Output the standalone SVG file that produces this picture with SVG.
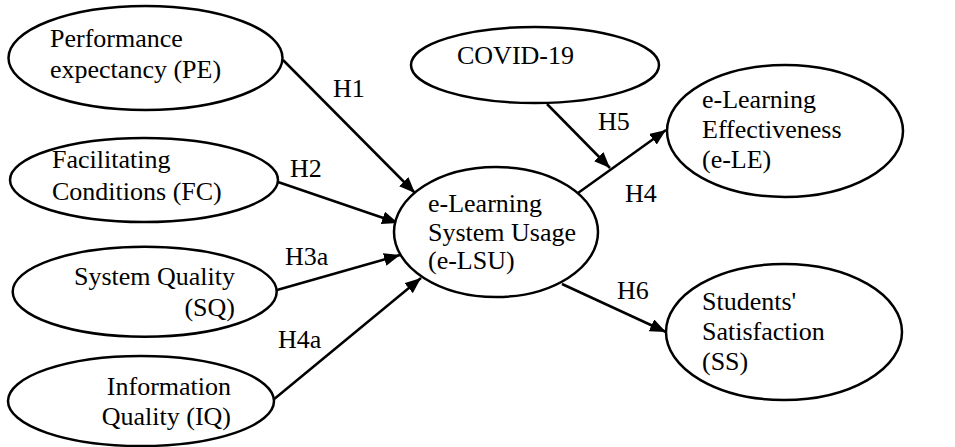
<svg xmlns="http://www.w3.org/2000/svg" width="955" height="447" viewBox="0 0 955 447">
<defs>
<marker id="arr" markerUnits="userSpaceOnUse" markerWidth="17" markerHeight="14" refX="16" refY="6.5" orient="auto">
<path d="M0,0 L16,6.5 L0,13 z" fill="#000"/>
</marker>
<style>
.n ellipse{fill:#fff;stroke:#000;stroke-width:2.5}
.c line{stroke:#000;stroke-width:2.5;marker-end:url(#arr)}
</style>
</defs>
<rect width="955" height="447" fill="#fff"/>
<g font-family="Liberation Serif, DejaVu Serif, serif" font-size="26" fill="#000">
<g class="c" id="connectors">
<line x1="283" y1="60" x2="415" y2="193"/>
<line x1="278" y1="182" x2="398" y2="223"/>
<line x1="277" y1="290" x2="400" y2="255"/>
<line x1="273" y1="400" x2="421" y2="278"/>
<line x1="547" y1="104" x2="610" y2="168"/>
<line x1="578" y1="193" x2="666" y2="130"/>
<line x1="562" y1="284" x2="666" y2="332"/>
<text x="333" y="97">H1</text>
<text x="290" y="177">H2</text>
<text x="285" y="265">H3a</text>
<text x="278" y="348">H4a</text>
<text x="598" y="130">H5</text>
<text x="625" y="202">H4</text>
<text x="617" y="299">H6</text>
</g>
<g class="n" id="pe"><ellipse cx="145.5" cy="58" rx="137" ry="52"/><text x="50" y="47">Performance</text><text x="50" y="78">expectancy (PE)</text></g>
<g class="n" id="fc"><ellipse cx="144" cy="180" rx="134" ry="42"/><text x="52" y="168">Facilitating</text><text x="52" y="200">Conditions (FC)</text></g>
<g class="n" id="sq"><ellipse cx="144.7" cy="291.7" rx="132" ry="45"/><text x="235" y="285" text-anchor="end">System Quality</text><text x="235" y="316" text-anchor="end">(SQ)</text></g>
<g class="n" id="iq"><ellipse cx="141" cy="401" rx="133" ry="45"/><text x="231" y="395" text-anchor="end">Information</text><text x="231" y="425" text-anchor="end">Quality (IQ)</text></g>
<g class="n" id="covid"><ellipse cx="535" cy="65" rx="124" ry="38"/><text x="457" y="64">COVID-19</text></g>
<g class="n" id="elsu"><ellipse cx="496" cy="232" rx="102" ry="65"/><text x="428" y="212">e-Learning</text><text x="428" y="241">System Usage</text><text x="428" y="269">(e-LSU)</text></g>
<g class="n" id="ele"><ellipse cx="785" cy="131" rx="118" ry="66"/><text x="702" y="108">e-Learning</text><text x="702" y="138">Effectiveness</text><text x="702" y="168">(e-LE)</text></g>
<g class="n" id="ss"><ellipse cx="784" cy="332" rx="118" ry="68"/><text x="702" y="310">Students'</text><text x="702" y="340">Satisfaction</text><text x="702" y="370">(SS)</text></g>
</g>
</svg>
